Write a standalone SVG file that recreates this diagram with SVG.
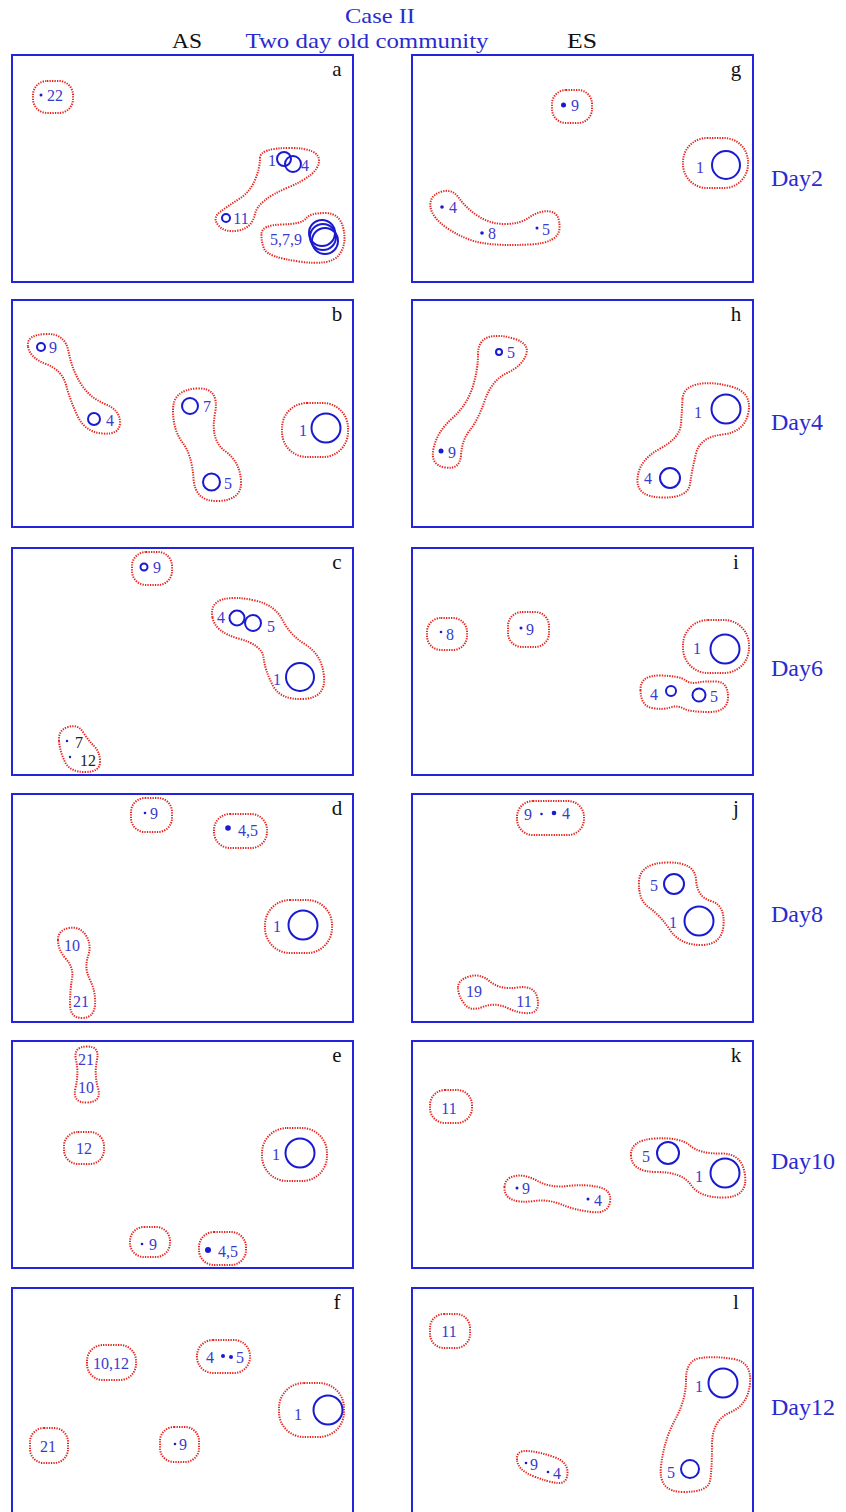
<svg xmlns="http://www.w3.org/2000/svg" width="846" height="1512" viewBox="0 0 846 1512">
<style>
.frame{fill:none;stroke:#2424e0;stroke-width:2}
.blob{fill:none;stroke:#e4241e;stroke-width:2;stroke-dasharray:1.3 1.2}
.c{fill:none;stroke:#1a1ad0;stroke-width:2}
.d{fill:#1a1ad0}
.n{font-family:"Liberation Serif",serif;font-size:16px;fill:#3a3acc;text-anchor:middle}
.k{fill:#222}
.lab{font-family:"Liberation Serif",serif;font-size:21px;fill:#111;text-anchor:middle}
.hd{font-family:"Liberation Serif",serif;font-size:22px;text-anchor:middle}
.day{font-family:"Liberation Serif",serif;font-size:24px;fill:#2a2ad0}
</style>
<rect width="846" height="1512" fill="#fff"/>
<g id="header">
<text class="hd" x="380" y="23" fill="#2a2ad0" textLength="70" lengthAdjust="spacingAndGlyphs">Case II</text>
<text class="hd" x="367" y="48" fill="#2a2ad0" textLength="243" lengthAdjust="spacingAndGlyphs">Two day old community</text>
<text class="hd" x="187" y="48" fill="#111" textLength="30" lengthAdjust="spacingAndGlyphs">AS</text>
<text class="hd" x="582" y="48" fill="#111" textLength="30" lengthAdjust="spacingAndGlyphs">ES</text>
</g>
<g id="day-labels">
<text class="day" x="771" y="186">Day2</text>
<text class="day" x="771" y="430">Day4</text>
<text class="day" x="771" y="676">Day6</text>
<text class="day" x="771" y="922">Day8</text>
<text class="day" x="771" y="1169">Day10</text>
<text class="day" x="771" y="1415">Day12</text>
</g>
<g id="connectors"></g>

<g id="panel-a">
<rect class="frame" x="12" y="55" width="341" height="227"/>
<text class="lab" x="337" y="76">a</text>
<g id="a-22"><rect class="blob" x="33" y="81" width="40" height="32" rx="14"/><circle class="d" cx="41" cy="95" r="1.5"/><text class="n" x="55" y="100.5">22</text></g>
<g id="a-1-4-11"><path class="blob" d="M260,158 Q260,148 290,148 Q320,148 319,161.5 Q318,175 288,187.5 Q258,200 255,214 Q252,228 238.5,230.5 Q225,233 218.5,225.5 Q212,218 220,212 Q228,206 239,199 Q250,192 255,180 Q260,168 260,158 Z"/>
<circle class="c" cx="284" cy="159" r="7"/><circle class="c" cx="293" cy="164" r="8"/><circle class="c" cx="226" cy="218" r="4"/>
<text class="n" x="272" y="165.5">1</text><text class="n" x="305" y="170.5">4</text><text class="n" x="241" y="223.5">11</text></g>
<g id="a-5-7-9"><path class="blob" d="M261.5,233.5 Q262,225 282,224.5 Q302,224 306,218.5 Q310,213 325,213 Q340,213 343.5,229 Q347,245 338.5,255.5 Q330,266 299,261.5 Q268,257 264.5,249.5 Q261,242 261.5,233.5 Z"/>
<circle class="c" cx="322" cy="233" r="13"/><circle class="c" cx="323" cy="237" r="13"/><circle class="c" cx="325" cy="241" r="13"/>
<text class="n" x="286" y="244.5">5,7,9</text></g>
</g>

<g id="panel-g">
<rect class="frame" x="412" y="55" width="341" height="227"/>
<text class="lab" x="736" y="76">g</text>
<g id="g-9"><rect class="blob" x="552" y="90" width="40" height="33" rx="14"/><circle class="d" cx="563.5" cy="105" r="2.5"/><text class="n" x="575" y="110.5">9</text></g>
<g id="g-1"><rect class="blob" x="683" y="138" width="65" height="50" rx="24"/><circle class="c" cx="726" cy="165" r="14"/><text class="n" x="700" y="172.5">1</text></g>
<g id="g-4-8-5"><path class="blob" d="M430.5,207 Q429,196 440.5,192 Q452,188 459,198 Q466,208 478,216 Q490,224 505,224 Q520,224 530,217 Q540,210 550,211.5 Q560,213 559.5,228 Q559,243 529.5,244.5 Q500,246 482.5,243 Q465,240 448.5,229 Q432,218 430.5,207 Z"/>
<circle class="d" cx="442" cy="207" r="1.8"/><circle class="d" cx="482" cy="233" r="1.8"/><circle class="d" cx="537" cy="228" r="1.5"/>
<text class="n" x="453" y="212.5">4</text><text class="n" x="492" y="238.5">8</text><text class="n" x="546" y="234.5">5</text></g>
</g>

<g id="panel-b">
<rect class="frame" x="12" y="300" width="341" height="227"/>
<text class="lab" x="337" y="321">b</text>
<g id="b-9-4"><path class="blob" d="M28,346.5 Q26,335 45.5,334 Q65,333 68.5,351.5 Q72,370 81,384 Q90,398 105,404 Q120,410 120,422.5 Q120,435 102.5,433.5 Q85,432 77.5,416 Q70,400 66,385 Q62,370 46,364 Q30,358 28,346.5 Z"/>
<circle class="c" cx="41" cy="347" r="4"/><circle class="c" cx="94" cy="419" r="6"/>
<text class="n" x="53" y="352.5">9</text><text class="n" x="110" y="425.5">4</text></g>
<g id="b-7-5"><path class="blob" d="M173,410 Q173,390 196.5,388.5 Q220,387 215,413.5 Q210,440 225,451 Q240,462 241,481 Q242,500 218.5,501 Q195,502 193.5,478.5 Q192,455 182.5,442.5 Q173,430 173,410 Z"/>
<circle class="c" cx="190" cy="406" r="8"/><circle class="c" cx="211.5" cy="482" r="8.5"/>
<text class="n" x="207" y="411.5">7</text><text class="n" x="228" y="488.5">5</text></g>
<g id="b-1"><rect class="blob" x="282" y="403" width="66" height="54" rx="25"/><circle class="c" cx="326" cy="428" r="14.5"/><text class="n" x="303" y="435.5">1</text></g>
</g>

<g id="panel-h">
<rect class="frame" x="412" y="300" width="341" height="227"/>
<text class="lab" x="736" y="321">h</text>
<g id="h-5-9"><path class="blob" d="M478,355 Q478,340 489,337 Q500,334 515,339 Q530,344 526,355 Q522,366 507,373 Q492,380 485,400 Q478,420 470,430 Q462,440 461,455 Q460,470 445,467.5 Q430,465 433.5,448.5 Q437,432 452,418.5 Q467,405 472.5,387.5 Q478,370 478,355 Z"/>
<circle class="c" cx="499" cy="352" r="3"/><circle class="d" cx="441" cy="451" r="2.5"/>
<text class="n" x="511" y="357.5">5</text><text class="n" x="452" y="457.5">9</text></g>
<g id="h-1-4"><path class="blob" d="M682.5,399 Q683,388 696.5,384.5 Q710,381 731,386.5 Q752,392 748.5,412 Q745,432 722.5,434.5 Q700,437 696,453.5 Q692,470 690,484 Q688,498 662,497.5 Q636,497 637.5,478.5 Q639,460 659.5,449 Q680,438 681,424 Q682,410 682.5,399 Z"/>
<circle class="c" cx="726" cy="409" r="14.5"/><circle class="c" cx="670" cy="478" r="10"/>
<text class="n" x="698" y="417.5">1</text><text class="n" x="648" y="483.5">4</text></g>
</g>

<g id="panel-c">
<rect class="frame" x="12" y="548" width="341" height="227"/>
<text class="lab" x="337" y="569">c</text>
<g id="c-9"><rect class="blob" x="132" y="552" width="40" height="33" rx="14"/><circle class="c" cx="144" cy="567" r="3.5"/><text class="n" x="157" y="572.5">9</text></g>
<g id="c-4-5-1"><path class="blob" d="M212.5,617.5 Q210,603 222.5,599.5 Q235,596 255,600.5 Q275,605 282.5,620 Q290,635 306,645 Q322,655 324,676.5 Q326,698 303,699 Q280,700 272.5,685 Q265,670 263.5,657.5 Q262,645 238.5,638.5 Q215,632 212.5,617.5 Z"/>
<circle class="c" cx="237" cy="618" r="7.5"/><circle class="c" cx="253" cy="623" r="8"/><circle class="c" cx="300" cy="677" r="14"/>
<text class="n" x="221" y="622.5">4</text><text class="n" x="271" y="631.5">5</text><text class="n" x="277" y="684.5">1</text></g>
<g id="c-7-12"><path class="blob" d="M59,741 Q58,730 68,727 Q78,724 83,732 Q88,740 94,746 Q100,752 100,762 Q100,772 85,772 Q70,772 65,762 Q60,752 59,741 Z"/>
<circle class="d" cx="67" cy="741" r="1.2"/><circle class="d" cx="70" cy="757" r="1.2"/>
<text class="n k" x="79" y="747.5">7</text><text class="n k" x="88" y="765.5">12</text></g>
</g>

<g id="panel-i">
<rect class="frame" x="412" y="548" width="341" height="227"/>
<text class="lab" x="736" y="569">i</text>
<g id="i-8"><rect class="blob" x="427" y="618" width="40" height="32" rx="14"/><circle class="d" cx="441" cy="632" r="1.3"/><text class="n" x="450" y="639.5">8</text></g>
<g id="i-9"><rect class="blob" x="508" y="612" width="41" height="35" rx="14"/><circle class="d" cx="521" cy="628" r="1.5"/><text class="n" x="530" y="634.5">9</text></g>
<g id="i-1"><rect class="blob" x="683" y="620" width="66" height="53" rx="25"/><circle class="c" cx="725" cy="649" r="14.5"/><text class="n" x="697" y="653.5">1</text></g>
<g id="i-4-5"><path class="blob" d="M640.5,690.5 Q640,675 660,675.5 Q680,676 685,680 Q690,684 697.5,682.5 Q705,681 716.5,681.5 Q728,682 728,697 Q728,712 709,712 Q690,712 683.5,708.5 Q677,705 670,707.5 Q663,710 652,708 Q641,706 640.5,690.5 Z"/>
<circle class="c" cx="671" cy="691" r="5"/><circle class="c" cx="699" cy="695" r="6.5"/>
<text class="n" x="654" y="699.5">4</text><text class="n" x="714" y="701.5">5</text></g>
</g>

<g id="panel-d">
<rect class="frame" x="12" y="794" width="341" height="228"/>
<text class="lab" x="337" y="815">d</text>
<g id="d-9"><rect class="blob" x="131" y="798" width="41" height="34" rx="14"/><circle class="d" cx="145" cy="813" r="1.3"/><text class="n" x="154" y="818.5">9</text></g>
<g id="d-4-5"><rect class="blob" x="214" y="814" width="53" height="34" rx="16"/><circle class="d" cx="228" cy="828" r="2.8"/><text class="n" x="248" y="835.5">4,5</text></g>
<g id="d-1"><rect class="blob" x="265" y="900" width="67" height="53" rx="25"/><circle class="c" cx="303" cy="925" r="14.5"/><text class="n" x="277" y="931.5">1</text></g>
<g id="d-10-21"><path class="blob" d="M58,940 Q58,930 69,928 Q80,926 86,935.5 Q92,945 88,956.5 Q84,968 90,980 Q96,992 95,1005 Q94,1018 82,1018 Q70,1018 70,1004 Q70,990 72,979 Q74,968 66,959 Q58,950 58,940 Z"/>
<text class="n" x="72" y="950.5">10</text><text class="n" x="81" y="1006.5">21</text></g>
</g>

<g id="panel-j">
<rect class="frame" x="412" y="794" width="341" height="228"/>
<text class="lab" x="736" y="815">j</text>
<g id="j-9-4"><rect class="blob" x="517" y="801" width="67" height="34" rx="16"/><circle class="d" cx="541.5" cy="814" r="1.3"/><circle class="d" cx="554" cy="813" r="2.3"/>
<text class="n" x="528" y="819.5">9</text><text class="n" x="566" y="818.5">4</text></g>
<g id="j-5-1"><path class="blob" d="M639,881.5 Q640,863 667.5,862.5 Q695,862 696,879.5 Q697,897 711,901 Q725,905 723.5,925 Q722,945 701,945 Q680,945 670,930 Q660,915 649,907.5 Q638,900 639,881.5 Z"/>
<circle class="c" cx="674" cy="884" r="10"/><circle class="c" cx="699" cy="921" r="14.5"/>
<text class="n" x="654" y="890.5">5</text><text class="n" x="673" y="927.5">1</text></g>
<g id="j-19-11"><path class="blob" d="M458,987.5 Q458,980 469,976.5 Q480,973 490,981.5 Q500,990 517.5,987.5 Q535,985 537.5,998.5 Q540,1012 530,1013 Q520,1014 507.5,1008 Q495,1002 482.5,1007 Q470,1012 464,1003.5 Q458,995 458,987.5 Z"/>
<text class="n" x="474" y="996.5">19</text><text class="n" x="524" y="1006.5">11</text></g>
</g>

<g id="panel-e">
<rect class="frame" x="12" y="1041" width="341" height="227"/>
<text class="lab" x="337" y="1062">e</text>
<g id="e-21-10"><path class="blob" d="M76,1060 Q73,1047 86.5,1046.5 Q100,1046 97,1060 Q94,1074 98,1088 Q102,1102 87,1102.5 Q72,1103 75.5,1088 Q79,1073 76,1060 Z"/>
<text class="n" x="86" y="1064.5">21</text><text class="n" x="86" y="1092.5">10</text></g>
<g id="e-12"><rect class="blob" x="64" y="1132" width="40" height="32" rx="14"/><text class="n" x="84" y="1153.5">12</text></g>
<g id="e-1"><rect class="blob" x="262" y="1128" width="65" height="53" rx="25"/><circle class="c" cx="300" cy="1153" r="14.5"/><text class="n" x="276" y="1159.5">1</text></g>
<g id="e-9"><rect class="blob" x="130" y="1227" width="40" height="30" rx="14"/><circle class="d" cx="142" cy="1244" r="1.3"/><text class="n" x="153" y="1249.5">9</text></g>
<g id="e-4-5"><rect class="blob" x="199" y="1232" width="47" height="33" rx="15"/><circle class="d" cx="208" cy="1250" r="3"/><text class="n" x="228" y="1256.5">4,5</text></g>
</g>

<g id="panel-k">
<rect class="frame" x="412" y="1041" width="341" height="227"/>
<text class="lab" x="736" y="1062">k</text>
<g id="k-11"><rect class="blob" x="430" y="1090" width="42" height="33" rx="15"/><text class="n" x="449" y="1113.5">11</text></g>
<g id="k-9-4"><path class="blob" d="M504.5,1187 Q505,1178 515,1176 Q525,1174 537.5,1181 Q550,1188 567.5,1186 Q585,1184 598.5,1187 Q612,1190 610,1202 Q608,1214 591.5,1212 Q575,1210 561.5,1204.5 Q548,1199 534,1201 Q520,1203 512,1199.5 Q504,1196 504.5,1187 Z"/>
<circle class="d" cx="517" cy="1188" r="1.5"/><circle class="d" cx="588" cy="1199" r="1.5"/>
<text class="n" x="526" y="1193.5">9</text><text class="n" x="598" y="1205.5">4</text></g>
<g id="k-5-1"><path class="blob" d="M631,1156 Q630,1140 655,1138.5 Q680,1137 690,1145.5 Q700,1154 721,1153.5 Q742,1153 745,1175 Q748,1197 724,1197.5 Q700,1198 691,1185 Q682,1172 657,1172 Q632,1172 631,1156 Z"/>
<circle class="c" cx="668" cy="1153" r="11"/><circle class="c" cx="725" cy="1173" r="14.5"/>
<text class="n" x="646" y="1161.5">5</text><text class="n" x="699" y="1181.5">1</text></g>
</g>

<g id="panel-f">
<rect class="frame" x="12" y="1288" width="341" height="227"/>
<text class="lab" x="337" y="1309">f</text>
<g id="f-10-12"><rect class="blob" x="87" y="1345" width="49" height="35" rx="16"/><text class="n" x="111" y="1368.5">10,12</text></g>
<g id="f-4-5"><rect class="blob" x="197" y="1340" width="53" height="33" rx="16"/><circle class="d" cx="223" cy="1356" r="2"/><circle class="d" cx="231" cy="1357" r="2"/>
<text class="n" x="210" y="1362.5">4</text><text class="n" x="240" y="1362.5">5</text></g>
<g id="f-1"><rect class="blob" x="279" y="1383" width="65" height="54" rx="25"/><circle class="c" cx="328" cy="1410" r="14.5"/><text class="n" x="298" y="1419.5">1</text></g>
<g id="f-21"><rect class="blob" x="30" y="1428" width="38" height="35" rx="14"/><text class="n" x="48" y="1451.5">21</text></g>
<g id="f-9"><rect class="blob" x="160" y="1427" width="39" height="35" rx="14"/><circle class="d" cx="175" cy="1444" r="1.3"/><text class="n" x="183" y="1449.5">9</text></g>
</g>

<g id="panel-l">
<rect class="frame" x="412" y="1288" width="341" height="227"/>
<text class="lab" x="736" y="1309">l</text>
<g id="l-11"><rect class="blob" x="430" y="1314" width="40" height="34" rx="14"/><text class="n" x="449" y="1336.5">11</text></g>
<g id="l-1-5"><path class="blob" d="M686,1380 Q686,1360 700.5,1358 Q715,1356 733.5,1359 Q752,1362 750,1383.5 Q748,1405 730,1412.5 Q712,1420 712,1445 Q712,1470 710,1481 Q708,1492 683,1492 Q658,1492 661,1466 Q664,1440 675,1420 Q686,1400 686,1380 Z"/>
<circle class="c" cx="723" cy="1383" r="14.5"/><circle class="c" cx="690" cy="1469" r="9"/>
<text class="n" x="699" y="1391.5">1</text><text class="n" x="671" y="1477.5">5</text></g>
<g id="l-9-4"><path class="blob" d="M517,1460 Q516,1450 528,1451 Q540,1452 554,1457 Q568,1462 567.5,1473 Q567,1484 557.5,1483 Q548,1482 533,1476 Q518,1470 517,1460 Z"/>
<circle class="d" cx="526" cy="1463" r="1.3"/><circle class="d" cx="548" cy="1472" r="1.3"/>
<text class="n" x="534" y="1469.5">9</text><text class="n" x="557" y="1478.5">4</text></g>
</g>
</svg>
